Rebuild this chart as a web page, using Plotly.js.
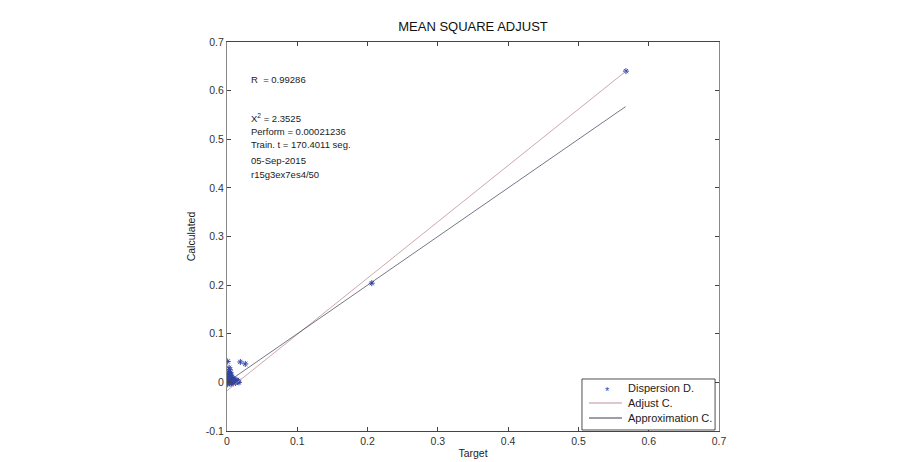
<!DOCTYPE html>
<html>
<head>
<meta charset="utf-8">
<script src="https://cdn.plot.ly/plotly-3.0.1.min.js"></script>
<style>html,body{margin:0;padding:0;background:#fff;}#chart{width:914px;height:462px;}</style>
</head>
<body>
<div id="chart"></div>
<script>
// Dispersion D. (target vs calculated)
var dispTarget = [0.000,0.001,0.001,0.002,0.002,0.003,0.003,0.003,0.004,0.004,0.004,0.005,0.005,0.005,0.006,0.006,0.006,0.007,0.007,0.008,0.008,0.009,0.009,0.010,0.010,0.011,0.012,0.012,0.013,0.014,0.015,0.016,0.017,0.002,0.004,0.003,0.005,0.001,0.006,0.008,
                  0.001,0.019,0.026,0.206,0.5676];
var dispCalc   = [0.002,0.010,-0.004,0.018,0.005,0.030,0.022,0.008,0.026,0.012,-0.002,0.020,0.006,0.001,0.015,0.004,-0.003,0.010,0.002,0.008,0.000,0.005,-0.002,0.006,0.001,0.003,0.004,-0.001,0.002,0.005,0.001,0.003,0.000,0.013,0.017,0.003,0.009,0.006,0.011,0.004,
                  0.043,0.042,0.038,0.204,0.640];
// Adjust C. (fitted line)
var adjustX = [0, 0.5676];
var adjustY = [-0.017, 0.640];
// Approximation C. (ideal line)
var approxX = [0, 0.567];
var approxY = [0, 0.567];

var xTicks = [0,0.1,0.2,0.3,0.4,0.5,0.6,0.7];
var xTickText = ['0','0.1','0.2','0.3','0.4','0.5','0.6','0.7'];
var yTicks = [-0.1,0,0.1,0.2,0.3,0.4,0.5,0.6,0.7];
var yTickText = ['-0.1','0','0.1','0.2','0.3','0.4','0.5','0.6','0.7'];

var infoLines = ['R  = 0.99286', 'X<sup>2</sup> = 2.3525', 'Perform = 0.00021236', 'Train. t = 170.4011 seg.', '05-Sep-2015', 'r15g3ex7es4/50'];
var infoY = [0.622, 0.543, 0.516, 0.490, 0.457, 0.428];

var legendNames = ['Dispersion D.', 'Adjust C.', 'Approximation C.'];

var font = 'Liberation Sans, Arial, sans-serif';
var markerColor = '#3345a6', adjustColor = '#c09098', approxColor = '#3a3c55';

var traces = [
  {x: dispTarget, y: dispCalc, type: 'scatter', mode: 'markers', name: legendNames[0],
   marker: {symbol: 'asterisk-open', size: 5, color: markerColor, line: {color: markerColor, width: 1}}},
  {x: adjustX, y: adjustY, type: 'scatter', mode: 'lines', name: legendNames[1],
   line: {color: adjustColor, width: 0.8}},
  {x: approxX, y: approxY, type: 'scatter', mode: 'lines', name: legendNames[2],
   line: {color: approxColor, width: 0.7}}
];

var annotations = infoLines.map(function(t, i){
  return {x: 0.031, y: infoY[i], xref: 'x', yref: 'y', text: t, showarrow: false,
          xanchor: 'left', yanchor: 'middle', font: {family: font, size: 9.5, color: '#222'}};
});

// compact legend box (paper coords of plot area)
var legRowY = [0.1105, 0.072, 0.0334];
legendNames.forEach(function(n, i){
  annotations.push({x: 0.811, y: legRowY[i], xref: 'paper', yref: 'paper', text: n, showarrow: false,
    xanchor: 'left', yanchor: 'middle', font: {family: font, size: 11, color: '#222'}});
});
annotations.push({x: 0.7724, y: legRowY[0], xref: 'paper', yref: 'paper', text: '*', showarrow: false,
  xanchor: 'center', yanchor: 'middle', yshift: -3, font: {family: font, size: 11, color: markerColor}});

var shapes = [
  {type: 'rect', xref: 'paper', yref: 'paper', x0: 0.7215, x1: 0.992, y0: 0.0026, y1: 0.1337,
   line: {color: '#222', width: 0.8}, fillcolor: '#fff', layer: 'above'},
  {type: 'line', xref: 'paper', yref: 'paper', x0: 0.7358, x1: 0.8028, y0: legRowY[1], y1: legRowY[1],
   line: {color: adjustColor, width: 1}, layer: 'above'},
  {type: 'line', xref: 'paper', yref: 'paper', x0: 0.7358, x1: 0.8028, y0: legRowY[2], y1: legRowY[2],
   line: {color: approxColor, width: 1}, layer: 'above'}
];

var layout = {
  width: 914, height: 462,
  margin: {l: 227, r: 195, t: 42, b: 31},
  paper_bgcolor: '#fff', plot_bgcolor: '#fff',
  title: {text: 'MEAN SQUARE ADJUST', font: {family: font, size: 13, color: '#111'}, x: 0.5175, xanchor: 'center', y: 0.942, yanchor: 'middle'},
  xaxis: {range: [0, 0.7], tickvals: xTicks, ticktext: xTickText, ticks: 'inside', ticklen: 4, tickcolor: '#444',
          showline: true, linecolor: '#444', linewidth: 1, mirror: 'ticks', showgrid: false, zeroline: false,
          tickfont: {family: font, size: 10.5, color: '#333'},
          title: {text: 'Target', font: {family: font, size: 10.5, color: '#222'}, standoff: 4}},
  yaxis: {range: [-0.1, 0.7], tickvals: yTicks, ticktext: yTickText, ticks: 'inside', ticklen: 4, tickcolor: '#444',
          showline: true, linecolor: '#888', linewidth: 1, mirror: 'ticks', showgrid: false, zeroline: false,
          tickfont: {family: font, size: 10.5, color: '#333'},
          title: {text: 'Calculated', font: {family: font, size: 10.5, color: '#222'}, standoff: 8}},
  annotations: annotations,
  shapes: shapes,
  showlegend: false
};

Plotly.newPlot('chart', traces, layout, {displayModeBar: false, staticPlot: true});
</script>
</body>
</html>
